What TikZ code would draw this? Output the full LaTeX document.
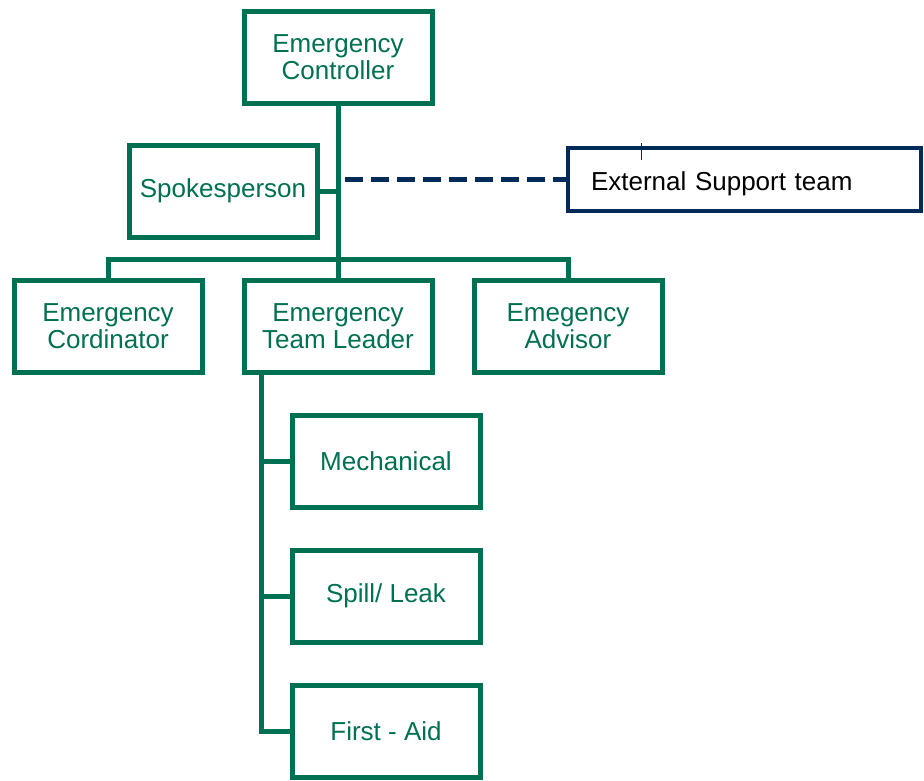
\documentclass[tikz,border=0pt]{standalone}
\usepackage{fontspec}
\setmainfont{Liberation Sans}
\usetikzlibrary{calc}
\definecolor{emgreen}{RGB}{0,112,82}
\definecolor{emnavy}{RGB}{0,42,88}
\tikzset{every node/.style={font=\fontsize{26}{27}\selectfont},
  role/.style={draw=emgreen,line width=5pt,text=emgreen,align=center,minimum width=188pt,minimum height=92pt,inner sep=0pt},
  link/.style={draw=emgreen,line width=5pt},
  outside/.style={draw=emnavy,line width=4.5pt,text=black,align=left,text width=307pt,inner xsep=23pt,minimum height=63pt,text height=30pt,text depth=8pt},
  dlink/.style={draw=emnavy,line width=5pt,dash pattern=on 18pt off 8pt}}

\begin{document}
\begin{tikzpicture}[x=1pt,y=-1pt]
\useasboundingbox (0,0) rectangle (924,780);
\node[role] (ctrl) at (338,57){Emergency\\Controller};
\node[role] (spoke) at (223,191){Spokesperson};
\node[outside] (ext) at (744.5,179.5){External Support team};
\draw[emnavy,line width=1pt] (641,143)--(641,160);
\foreach \n/\x/\t in {coord/108/Emergency\\Cordinator,lead/338/Emergency\\Team Leader,adv/568/Emegency\\Advisor}
  {\node[role] (\n) at (\x,326){\t};}
\foreach \n/\y/\t in {mech/461/Mechanical,spill/596/{Spill/ Leak},aid/731/First - Aid}
  {\node[role] (\n) at (386,\y){\t};}
\draw[link] (ctrl.south)--(lead.north);
\draw[link] (coord.north)--++(0,-18)-|(adv.north);
\draw[link] (spoke.east)--(spoke.east -| ctrl.south);
\draw[dlink] ($(ctrl.south |- ext.west)+(7,0)$)--(ext.west);
\foreach \n in {mech,spill,aid}{\draw[link] ([xshift=20pt]lead.south west)|-(\n.west);}
\end{tikzpicture}
\end{document}
